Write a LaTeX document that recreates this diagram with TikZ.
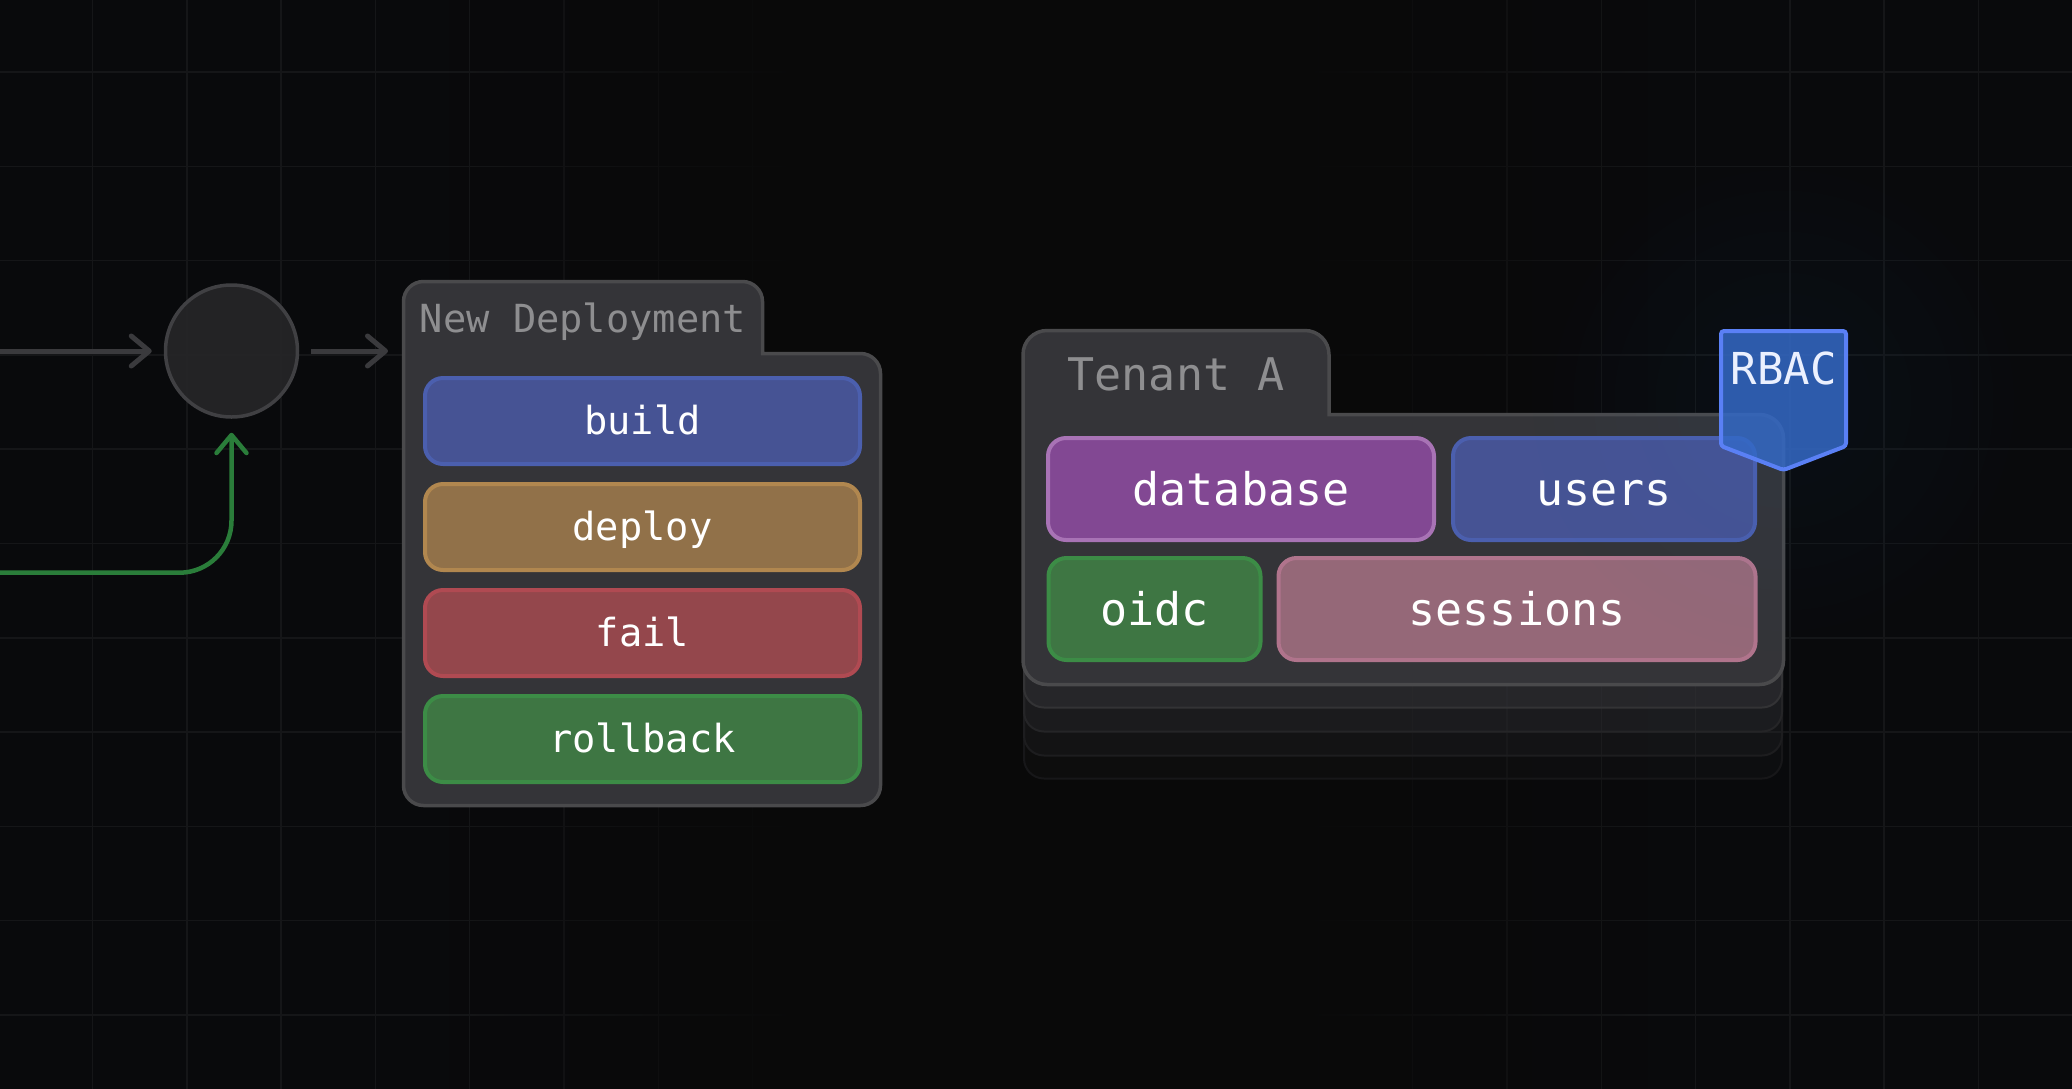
\documentclass[tikz,border=0pt]{standalone}
\usepackage{fontspec}
\setmonofont{DejaVu Sans Mono}
\usetikzlibrary{positioning, arrows.meta, fadings}
\definecolor{bgdark}{HTML}{090A0C}
\definecolor{bgcentre}{HTML}{090909}
\definecolor{gridline}{HTML}{151618}
\definecolor{folderfill}{HTML}{343438}
\definecolor{folderline}{HTML}{4A4A4C}
\definecolor{gatefill}{HTML}{262628}
\definecolor{gateline}{HTML}{404043}
\definecolor{arrowgrey}{HTML}{3A3A3D}
\definecolor{arrowgreen}{HTML}{2A7D3A}
\definecolor{titlegrey}{HTML}{8E8E90}
\definecolor{glowblue}{HTML}{1478D8}
\definecolor{buildfill}{HTML}{465394}
\definecolor{buildline}{HTML}{4B5FAE}
\definecolor{deployfill}{HTML}{917149}
\definecolor{deployline}{HTML}{B1874F}
\definecolor{failfill}{HTML}{94474C}
\definecolor{failline}{HTML}{B04A52}
\definecolor{rollfill}{HTML}{3E7643}
\definecolor{rollline}{HTML}{3C8C46}
\definecolor{dbfill}{HTML}{824893}
\definecolor{dbline}{HTML}{A873B5}
\definecolor{sessfill}{HTML}{956878}
\definecolor{sessline}{HTML}{B0748C}
\definecolor{badgefill}{HTML}{3469C6}
\definecolor{badgeline}{HTML}{5A80F5}
\tikzfading[name=glowfade, inner color=transparent!95, outer color=transparent!100]
\pgfdeclarehorizontalshading{gridmask}{100bp}{color(0bp)=(black); color(25bp)=(black); color(40bp)=(white); color(60bp)=(white); color(75bp)=(black); color(100bp)=(black)}
\pgfdeclarefading{gridfade}{\pgfuseshading{gridmask}}

\begin{document}
\begin{tikzpicture}[
    x=1pt, y=-1pt,
    folder/.style={draw=folderline, fill=folderfill, line width=3.5pt},
    flowarrow/.style={-{Straight Barb[round, length=18pt, width=30pt]}},
    foldertitle/.style={anchor=base, text=titlegrey, font=\ttfamily\fontsize{38.7}{44}\selectfont},
    step item/.style={rectangle, rounded corners=18pt, line width=4pt, text=white, inner sep=0pt, minimum width=435pt, minimum height=86pt, text height=26pt, text depth=0pt, font=\ttfamily\fontsize{38.7}{44}\selectfont},
    tenant item/.style={rectangle, rounded corners=18pt, line width=4pt, text=white, inner sep=0pt, minimum height=102pt, text height=32pt, text depth=0pt, font=\ttfamily\fontsize{45}{50}\selectfont},
]

% Background and grid
\useasboundingbox (0,0) rectangle (2072,1088);
\fill[bgdark] (-4,-4) rectangle (2076,1092);
\foreach \k in {0,...,21} \draw[gridline, line width=1.5pt] (92.5+94.3*\k,-4) -- (92.5+94.3*\k,1092);
\foreach \k in {0,...,10} \draw[gridline, line width=1.5pt] (-4,72+94.3*\k) -- (2076,72+94.3*\k);
\fill[bgcentre, path fading=gridfade] (450,-4) rectangle (1650,1092);

% Stacked sheets under the tenant folder
\foreach \off/\op/\edge in {94/.1/171719, 71/.167/1D1D1F, 47/.267/252527, 23/.455/333335} {
    \definecolor{stackline}{HTML}{\edge}
    \draw[draw=stackline, fill=folderfill, fill opacity=\op, line width=2pt, rounded corners=20pt] (1024,500) rectangle (1782,684.5+\off);
}

% Folders
\draw[folder] (403.5,353.5) [rounded corners=20pt] -- (403.5,281.5) -- (762.5,281.5) [sharp corners] -- (762.5,353.5) [rounded corners=20pt] -- (880.5,353.5) -- (880.5,805.5) -- (403.5,805.5) -- cycle;
\draw[folder] (1023,414.5) [rounded corners=24pt] -- (1023,330.5) -- (1329,330.5) [sharp corners] -- (1329,414.5) [rounded corners=24pt] -- (1783.5,414.5) -- (1783.5,684.5) -- (1023,684.5) -- cycle;

% Nodes
\node[circle, draw=gateline, fill=gatefill, fill opacity=.92, line width=3.5pt, inner sep=0pt, minimum size=132pt] (gate) at (231.5,351) {};
\coordinate (inLeft) at (0,351);
\coordinate (inBack) at (0,572.7);
\coordinate (deployEdge) at (402,351);

\node[foldertitle] (deployTitle) at (583,332.7) {New Deployment};
\node[step item, draw=buildline, fill=buildfill] (build) at (642.5,421) {build};
\node[step item, draw=deployline, fill=deployfill, below=16pt of build] (deploy) {deploy};
\node[step item, draw=failline, fill=failfill, below=16pt of deploy] (fail) {fail};
\node[step item, draw=rollline, fill=rollfill, below=16pt of fail] (rollback) {rollback};

\node[foldertitle, font=\ttfamily\fontsize{45}{50}\selectfont] (tenantTitle) at (1176,390) {Tenant A};
\node[tenant item, draw=dbline, fill=dbfill, minimum width=386pt] (database) at (1241,489) {database};
\node[tenant item, draw=buildline, fill=buildfill, minimum width=302pt, right=15pt of database] (users) {users};
\node[tenant item, draw=rollline, fill=rollfill, minimum width=212pt] (oidc) at (1154.5,609) {oidc};
\node[tenant item, draw=sessline, fill=sessfill, minimum width=477pt, right=14pt of oidc] (sessions) {sessions};

% Badge with its glow
\fill[glowblue, path fading=glowfade] (1783,400) circle (260);
\draw[draw=badgeline, fill=badgefill, fill opacity=.85, line width=4pt, rounded corners=3pt] (1721,331) -- (1846,331) -- (1846,446) -- (1783.5,470) -- (1721,446) -- cycle;
\node[anchor=base, text=white!88!badgeline, font=\ttfamily\fontsize{44}{50}\selectfont] (rbac) at (1783.5,384) {RBAC};

% Connections
\draw[flowarrow, arrowgrey, line width=5pt, shorten >=12pt] (inLeft) -- (gate);
\draw[flowarrow, arrowgrey, line width=5pt, shorten <=12pt, shorten >=14pt] (gate) -- (deployEdge);
\draw[flowarrow, arrowgreen, line width=4.5pt, rounded corners=52pt, shorten >=14pt] (inBack) -| (gate.south);

\end{tikzpicture}
\end{document}
